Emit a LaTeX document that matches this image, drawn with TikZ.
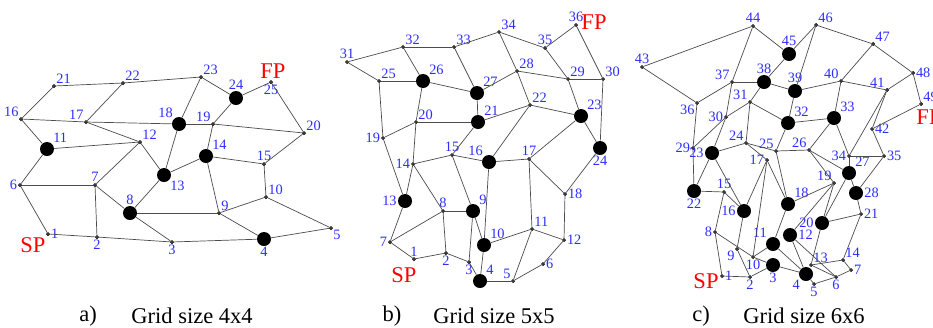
\documentclass[tikz,border=0pt]{standalone}
\usepackage{fontspec}
\setmainfont{Liberation Serif}
\usetikzlibrary{positioning}
\definecolor{numblue}{RGB}{45,45,255}
\definecolor{ptred}{RGB}{255,0,0}

\begin{document}
\begin{tikzpicture}[x=0.25mm, y=-0.25mm,
    vtx/.style={circle, draw=black, fill=black!55, inner sep=0pt, minimum size=0.8mm},
    hub/.style={circle, fill=black, inner sep=0pt, minimum size=3.5mm},
    num/.style={text=numblue, font=\fontsize{10.2}{11}\selectfont, inner sep=0.6pt},
    pt/.style={text=ptred, font=\fontsize{16}{18}\selectfont, inner sep=0pt},
    edge/.style={draw=black!70, line width=0.5pt},
    capt/.style={font=\fontsize{16}{18}\selectfont, inner sep=0pt}]
\useasboundingbox (0,0) rectangle (933,327);

% a) grid size 4x4
\foreach \n/\x/\y/\p in {1/48/234/right, 2/97/237/below, 3/172/242/below,
        5/331/228/below right, 6/20/185/left, 7/95/185/above, 9/219/213/above right,
        10/266/197/above right, 12/140/142/above right, 15/264/164/above,
        16/21/119/above left, 17/86/122/above left, 19/213/124/above left,
        20/304/133/above right, 21/54/86/above right, 22/123/83/above right,
        23/201/77/above right, 25/271/82/below} {
    \node[vtx] (a\n) at (\x,\y) {};
    \node[num, \p=0pt of a\n] (la\n) {\n};
}
\foreach \n/\x/\y/\p in {4/264/239/below, 8/130/213/above, 11/47/149/above right,
        13/164/175/below right, 14/206/156/above right, 18/179/124/above left,
        24/236/98/above} {
    \node[hub] (a\n) at (\x,\y) {};
    \node[num, \p=0pt of a\n] (la\n) {\n};
}
\foreach \u/\v in {21/22, 21/16, 22/17, 22/23, 16/17, 16/11, 17/18, 17/12, 11/12,
        11/6, 12/7, 12/13, 6/7, 6/1, 7/2, 7/8, 8/13, 8/9, 8/3, 1/2, 2/3, 3/4,
        18/23, 18/19, 18/13, 23/24, 24/25, 24/19, 19/20, 19/14, 25/20, 20/15,
        14/13, 14/15, 14/9, 15/10, 10/9, 10/5, 9/4, 4/5}
    \draw[edge] (a\u) -- (a\v);
\node[pt] (spa) at (33,245) {SP};
\node[pt] (fpa) at (273,71) {FP};

% b) grid size 5x5
\foreach \n/\x/\y/\p in {1/414/259/above, 2/446/253/below, 3/469/262/below,
        5/513/281/above left, 6/543/264/right, 7/390/242/left, 8/443/211/above,
        11/532/229/above right, 12/564/240/right, 14/413/164/left, 15/452/155/above,
        17/529/159/above, 18/565/194/right, 19/383/138/left, 20/416/122/above right,
        22/530/105/above right, 25/379/81/above right, 28/517/71/above right,
        29/568/79/above right, 30/603/79/above right, 31/347/62/above,
        32/403/47/above right, 33/454/47/above right, 34/499/32/above right,
        35/545/48/above, 36/576/25/above} {
    \node[vtx] (b\n) at (\x,\y) {};
    \node[num, \p=0pt of b\n] (lb\n) {\n};
}
\foreach \n/\x/\y/\p in {4/480/281/above right, 9/473/211/above right,
        10/484/245/above right, 13/405/201/left, 16/489/162/above left,
        21/478/122/above right, 23/581/116/above right, 24/600/148/below,
        26/423/81/above right, 27/477/93/above right} {
    \node[hub] (b\n) at (\x,\y) {};
    \node[num, \p=0pt of b\n] (lb\n) {\n};
}
\foreach \u/\v in {31/32, 31/25, 32/33, 32/26, 33/34, 33/27, 25/26, 25/19, 26/27,
        26/20, 27/21, 27/28, 20/21, 20/19, 20/14, 21/22, 21/15, 19/13, 14/13, 14/15,
        14/8, 15/16, 15/9, 16/22, 16/17, 16/10, 13/7, 8/9, 8/7, 8/2, 9/3, 9/10, 7/1,
        1/2, 2/3, 3/4, 4/10, 4/5, 10/11, 34/35, 34/28, 35/36, 35/29, 36/30, 28/29,
        28/22, 29/30, 29/23, 30/24, 22/23, 23/24, 23/17, 24/18, 17/11, 17/18, 18/12,
        11/12, 11/5, 12/6, 6/5}
    \draw[edge] (b\u) -- (b\v);
\node[pt] (spb) at (404,275) {SP};
\node[pt] (fpb) at (594,22) {FP};

% c) grid size 6x6
\foreach \n/\x/\y/\p in {1/722/276/right, 2/750/277/below, 5/814/284/below,
        6/836/277/below, 7/851/270/right, 8/715/232/left, 9/737/249/below left,
        10/753/257/below, 13/811/265/above right, 14/843/260/above right,
        15/724/192/above, 17/767/160/left, 19/834/183/above left, 21/861/214/right,
        24/746/143/above left, 25/776/151/above left, 26/809/150/above left,
        29/693/148/left, 30/726/117/left, 31/750/102/above left, 34/849/156/left,
        35/884/156/right, 36/697/103/below left, 37/732/82/above left,
        40/841/81/above left, 41/887/90/above left, 42/872/129/right,
        43/642/67/above, 44/753/26/above, 46/816/25/above right,
        47/873/44/above right, 48/913/73/right, 49/921/104/above right} {
    \node[vtx] (c\n) at (\x,\y) {};
    \node[num, \p=0pt of c\n] (lc\n) {\n};
}
\foreach \n/\x/\y/\p in {3/773/265/below, 4/806/274/below left,
        11/773/244/above left, 12/790/235/right, 16/744/211/left,
        18/788/204/above right, 20/822/223/left, 22/694/191/below, 23/712/153/left,
        27/849/173/above right, 28/856/193/right, 32/788/123/above right,
        33/834/118/above right, 38/764/82/above, 39/795/91/above, 45/789/54/above} {
    \node[hub] (c\n) at (\x,\y) {};
    \node[num, \p=0pt of c\n] (lc\n) {\n};
}
\foreach \u/\v in {43/44, 43/36, 44/37, 44/45, 45/46, 45/38, 46/39, 46/47, 47/40,
        47/48, 48/41, 48/49, 49/42, 36/37, 36/29, 37/38, 37/30, 38/39, 38/31, 39/40,
        39/32, 40/41, 40/33, 41/42, 41/34, 42/35, 31/30, 31/24, 31/32, 30/29, 30/23,
        32/33, 32/25, 33/26, 33/34, 29/22, 23/24, 23/22, 23/16, 24/25, 24/17, 25/26,
        25/18, 26/19, 26/27, 34/27, 34/35, 35/28, 27/28, 27/20, 28/21, 19/18, 19/20,
        19/12, 20/21, 20/13, 21/14, 14/13, 14/7, 22/15, 15/16, 15/8, 16/17, 16/9,
        17/10, 17/18, 18/11, 8/1, 8/10, 9/2, 10/11, 10/3, 1/2, 2/3, 3/4, 11/4, 12/4,
        12/6, 4/5, 5/6, 6/7, 13/6}
    \draw[edge] (c\u) -- (c\v);
\node[pt] (spc) at (706,281) {SP};
\node[pt] (fpc) at (929,117) {FP};

% captions
\node[capt] (capa) at (88,316) {a)};
\node[capt] (tita) at (192,316) {Grid size 4x4};
\node[capt] (capb) at (392,316) {b)};
\node[capt] (titb) at (494,316) {Grid size 5x5};
\node[capt] (capc) at (701,316) {c)};
\node[capt] (titc) at (804,316) {Grid size 6x6};
\end{tikzpicture}
\end{document}
